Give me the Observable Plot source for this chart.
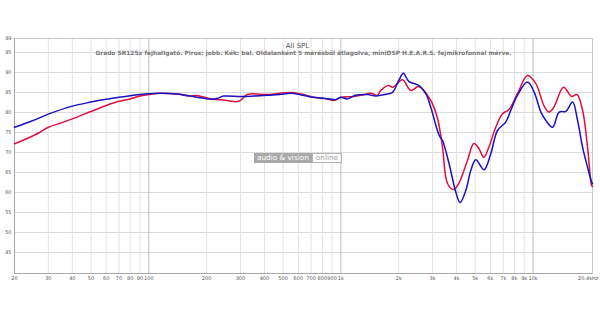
<!DOCTYPE html>
<html>
<head>
<meta charset="utf-8">
<script src="https://cdn.jsdelivr.net/npm/d3@7"></script>
<script src="https://cdn.jsdelivr.net/npm/@observablehq/plot@0.6"></script>
<style>
  html, body { margin: 0; padding: 0; background: #fff; }
  #wrap { position: relative; width: 600px; height: 314px; }
  #wm { position: absolute; left: 254px; top: 153px; height: 10px; display: flex; font-family: "DejaVu Sans", sans-serif; font-size: 7.3px; line-height: 10px; }
  #wm .a { background: #a9a9a9; color: #fff; padding: 0 3px; }
  #wm .b { border: 1px solid #b5b5b5; color: #a0a0a0; padding: 0 3px; line-height: 8px; background: rgba(255,255,255,0.6); }
</style>
</head>
<body>
<div id="wrap"><div id="chart"></div><div id="wm"><span class="a">audio &amp; vision</span><span class="b">online</span></div></div>
<script>
const title = "All SPL";
const subtitle = "Grado SR125x fejhallgató. Piros: jobb. Kék: bal. Oldalanként 5 mérésből átlagolva, miniDSP H.E.A.R.S. fejmikrofonnal mérve.";

const xTicks = [20,30,40,50,60,70,80,90,100,200,300,400,500,600,700,800,900,1000,2000,3000,4000,5000,6000,7000,8000,9000,10000,20400];
const xTickLabels = ["20","30","40","50","60","70","80","90","100","200","300","400","500","600","700","800","900","1k","2k","3k","4k","5k","6k","7k","8k","9k","10k","20.4kHz"];
const xMajor = [100,1000,10000];
const yTicks = [45,50,55,60,65,70,75,80,85,90,95,98.5];
const yTickLabels = ["45","50","55","60","65","70","75","80","85","90","95","99"];

// Blue: left channel
const blueFreq = [20,25,30,40,50,60,70,80,90,100,115,140,165,190,210,230,245,300,350,416,480,548,620,697,800,900,940,997,1080,1190,1375,1517,1611,1774,1862,2000,2115,2255,2553,2767,2937,3246,3380,3657,3963,4170,4467,4743,5036,5560,6028,6533,7212,7658,8297,9357,10138,10990,11670,12643,13680,14832,16070,17060,18120,19230,20190,20400];
const blueDb = [76.3,78.0,79.6,81.6,82.6,83.3,83.8,84.2,84.5,84.7,84.8,84.6,84.1,83.6,83.3,83.6,84.1,84.0,84.1,84.3,84.5,84.8,84.4,83.9,83.6,83.3,83.2,83.8,83.4,84.3,84.5,84.1,84.3,84.7,85.1,88.0,89.8,87.8,86.7,84.7,81.3,74.3,73.0,67.2,60.1,57.5,60.5,65.5,68.2,65.7,69.7,75.5,77.6,80.5,84.3,87.6,85.1,80.1,78.0,76.3,80.1,80.3,82.6,78.0,71.3,66.3,62.6,62.2];

// Red: right channel
const redFreq = [20,22,25,27,30,35,40,50,60,70,80,90,100,115,140,165,175,195,210,237,294,326,416,548,620,721,850,917,997,1166,1300,1430,1549,1611,1774,1862,2090,2310,2543,2937,3185,3380,3589,3866,4107,4557,4920,5225,5543,5886,6398,6934,7482,8297,9357,10347,11387,12087,12830,14424,15885,16920,18120,19230,20190,20400];
const redDb = [72.2,73.0,74.2,75.0,76.3,77.4,78.4,80.25,81.75,82.8,83.4,84.1,84.5,84.8,84.6,84.1,84.25,83.8,83.4,83.2,82.8,84.5,84.5,85.0,84.6,83.8,83.4,83.0,83.75,84.0,84.4,84.8,84.25,85.5,86.75,86.3,88.2,85.5,86.5,83.0,78.5,71.3,62.25,60.75,62.25,68.0,72.25,71.0,68.8,71.3,76.3,79.7,80.7,84.7,89.25,87.2,81.75,80.1,81.3,86.3,84.0,84.5,80.5,71.3,61.75,61.5];

const blue = blueFreq.map((f,i) => ({f, db: blueDb[i]}));
const red = redFreq.map((f,i) => ({f, db: redDb[i]}));
const minorX = xTicks.filter(t => !xMajor.includes(t) && t !== 20400);
const xLab = xTicks.map((t,i) => ({t, label: xTickLabels[i], last: i === xTicks.length - 1}));

const chart = Plot.plot({
  width: 600,
  height: 314,
  marginLeft: 14,
  marginRight: 8,
  marginTop: 38,
  marginBottom: 41,
  style: {fontFamily: "DejaVu Sans, sans-serif", background: "#fff"},
  x: {type: "log", domain: [20, 20400], axis: null},
  y: {domain: [39.75, 98.5]},
  marks: [
    Plot.gridY(yTicks.slice(0, -1), {stroke: "#dcdcdc", strokeOpacity: 1}),
    Plot.gridX(minorX, {stroke: "#e2e2e2", strokeOpacity: 1}),
    Plot.gridX(xMajor, {stroke: "#bdbdbd", strokeOpacity: 1}),
    Plot.frame({stroke: "#c8c8c8"}),
    Plot.ruleX([20], {stroke: "#a8a8a8"}),
    Plot.ruleY([39.75], {stroke: "#a8a8a8"}),
    Plot.text(xLab.filter(d => !d.last), {x: "t", text: "label", frameAnchor: "bottom", dy: 6, fontSize: 5, fill: "#555"}),
    Plot.text(xLab.filter(d => d.last), {x: "t", text: "label", frameAnchor: "bottom", dy: 6, dx: 6, textAnchor: "end", fontSize: 5, fill: "#555"}),
    Plot.axisY(yTicks, {tickSize: 0, tickPadding: 3, fontSize: 5, fill: "#555", tickFormat: d => yTickLabels[yTicks.indexOf(d)], label: null}),
    Plot.text([title], {frameAnchor: "top", dy: 5, fontSize: 7, fill: "#555", dx: -6}),
    Plot.text([subtitle], {frameAnchor: "top", dy: 12, fontSize: 5.9, fontWeight: "bold", fill: "#777"}),
    Plot.line(red, {x: "f", y: "db", stroke: "#dd1040", strokeWidth: 1.5, curve: "catmull-rom"}),
    Plot.line(blue, {x: "f", y: "db", stroke: "#1a12c2", strokeWidth: 1.5, curve: "catmull-rom"})
  ]
});
document.getElementById("chart").appendChild(chart);
</script>
</body>
</html>
